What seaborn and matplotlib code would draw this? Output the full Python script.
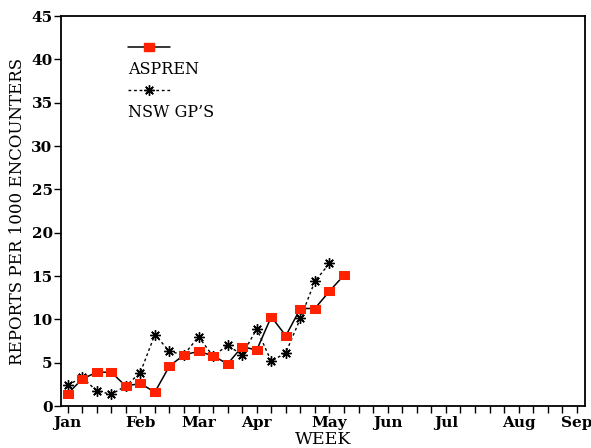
import numpy as np
import pandas as pd
import matplotlib
matplotlib.use("Agg")
import matplotlib.pyplot as plt
from matplotlib.lines import Line2D
import seaborn as sns

# ---- data ----
aspren_weeks = list(range(1, 21))
aspren_values = [1.4, 3.1, 3.9, 3.9, 2.3, 2.6, 1.6, 4.6, 5.9, 6.3,
                 5.8, 4.85, 6.85, 6.45, 10.3, 8.1, 11.25, 11.25, 13.25, 15.1]
nsw_weeks = list(range(1, 20))
nsw_values = [2.4, 3.3, 1.75, 1.35, 2.3, 3.85, 8.25, 6.3, 5.9, 8.0,
              5.75, 7.0, 5.9, 8.9, 5.15, 6.15, 10.1, 14.4, 16.45]
month_labels = ["Jan", "Feb", "Mar", "Apr", "May", "Jun", "Jul", "Aug", "Sep"]
month_weeks = [1, 6, 10, 14, 19, 23, 27, 32, 36]
all_weeks = list(range(1, 37))
y_ticks = list(range(0, 50, 5))
series_names = ["ASPREN", "NSW GP\u2019S"]

df_a = pd.DataFrame({"week": aspren_weeks, "rate": aspren_values})
df_n = pd.DataFrame({"week": nsw_weeks, "rate": nsw_values})

sns.set_theme(style="ticks")
plt.rcParams["font.family"] = ["DejaVu Serif"]
plt.rcParams["text.color"] = "black"
plt.rcParams["axes.labelcolor"] = "black"

RED = "#ff2200"
rect = [(-1, -0.8), (1, -0.8), (1, 0.8), (-1, 0.8), (-1, -0.8)]

fig = plt.figure(figsize=(5.91, 4.48), dpi=100)
ax = fig.add_axes([61 / 591, 42 / 448, (585 - 61) / 591, (406 - 16) / 448])

sns.lineplot(data=df_n, x="week", y="rate", ax=ax, color="black",
             linestyle=(0, (2, 2)), linewidth=1.0, marker=(8, 2, 0),
             markersize=7.5, markeredgewidth=1.0, markeredgecolor="black")
sns.lineplot(data=df_a, x="week", y="rate", ax=ax, color="black",
             linewidth=1.1, marker=rect, markersize=7.5,
             markerfacecolor=RED, markeredgecolor=RED)

ax.set_xlim(0.55, 36.56)
ax.set_ylim(0, 45)
ax.set_xticks(all_weeks)
ax.set_xticklabels([month_labels[month_weeks.index(w)] if w in month_weeks else ""
                    for w in all_weeks])
ax.set_yticks(y_ticks)
ax.tick_params(axis="both", direction="out", length=5, width=1.0,
               labelsize=11, colors="black", pad=2)
ax.tick_params(axis="y", pad=1)
for lab in ax.get_xticklabels() + ax.get_yticklabels():
    lab.set_fontweight("bold")
ax.set_xlabel("WEEK", fontsize=12.5, labelpad=1, color="black")
ax.set_ylabel("REPORTS PER 1000 ENCOUNTERS", fontsize=12, labelpad=4, color="black")
for s in ax.spines.values():
    s.set_visible(True)
    s.set_color("black")
    s.set_linewidth(1.3)

# legend: handle above label
h_a = Line2D([], [], color="black", linewidth=1.1, marker=rect, markersize=7.5,
             markerfacecolor=RED, markeredgecolor=RED)
h_n = Line2D([], [], color="black", linestyle=(0, (2, 2)), linewidth=1.0,
             marker=(8, 2, 0), markersize=7.5)
blank = Line2D([], [], linestyle="none")
leg = ax.legend([h_a, blank, h_n, blank], ["", series_names[0], "", series_names[1]],
                loc="upper left", bbox_to_anchor=(0.128, 0.94), frameon=False,
                fontsize=11.5, handlelength=2.6, handletextpad=-2.6,
                labelspacing=0.28, borderpad=0, borderaxespad=0)
for t in leg.get_texts():
    t.set_color("black")

fig.savefig("out.png", dpi=100)
